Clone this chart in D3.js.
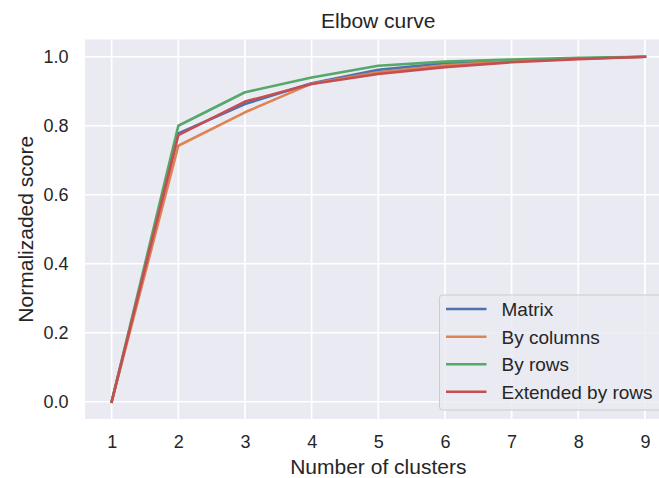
<!DOCTYPE html>
<html>
<head>
<meta charset="utf-8">
<script src="https://cdn.jsdelivr.net/npm/d3@7"></script>
<style>
  html, body { margin: 0; padding: 0; background: #ffffff; }
  svg { display: block; font-family: "Liberation Sans", Arial, sans-serif; }
</style>
</head>
<body>
<svg id="chart" width="659" height="478"></svg>
<script>
// Number of clusters on the x axis
const clusters = [1, 2, 3, 4, 5, 6, 7, 8, 9];

// Normalized score per method
const matrix = [0.0, 0.778, 0.863, 0.923, 0.962, 0.981, 0.990, 0.995, 1.0];
const byColumns = [0.0, 0.742, 0.839, 0.922, 0.955, 0.975, 0.987, 0.994, 1.0];
const byRows = [0.0, 0.800, 0.897, 0.940, 0.974, 0.986, 0.992, 0.997, 1.0];
const extendedByRows = [0.0, 0.773, 0.870, 0.921, 0.950, 0.970, 0.984, 0.993, 1.0];

const seriesNames = ["Matrix", "By columns", "By rows", "Extended by rows"];
const seriesValues = [matrix, byColumns, byRows, extendedByRows];
const seriesColors = ["#4c72b0", "#dd8452", "#55a868", "#c44e52"];

const xTicks = [1, 2, 3, 4, 5, 6, 7, 8, 9];
const yTicks = [0.0, 0.2, 0.4, 0.6, 0.8, 1.0];

const svg = d3.select("#chart");
const plot = { left: 85, right: 671.6, top: 39.5, bottom: 419 };

const x = d3.scaleLinear().domain([0.6, 9.4]).range([plot.left, plot.right]);
const y = d3.scaleLinear().domain([-0.05, 1.05]).range([plot.bottom, plot.top]);

// axes background
svg.append("rect")
  .attr("x", plot.left).attr("y", plot.top)
  .attr("width", plot.right - plot.left).attr("height", plot.bottom - plot.top)
  .attr("fill", "#eaeaf2");

// grid
const grid = svg.append("g").attr("stroke", "#ffffff").attr("stroke-width", 1.7);
grid.selectAll("line.gx").data(xTicks).join("line")
  .attr("x1", d => x(d)).attr("x2", d => x(d))
  .attr("y1", plot.top).attr("y2", plot.bottom);
grid.selectAll("line.gy").data(yTicks).join("line")
  .attr("x1", plot.left).attr("x2", plot.right)
  .attr("y1", d => y(d)).attr("y2", d => y(d));

// tick labels via d3 axes
const xAxis = svg.append("g")
  .attr("transform", `translate(0,${plot.bottom})`)
  .call(d3.axisBottom(x).tickValues(xTicks).tickSize(0).tickPadding(16).tickFormat(d3.format("d")));
const yAxis = svg.append("g")
  .attr("transform", `translate(${plot.left},0)`)
  .call(d3.axisLeft(y).tickValues(yTicks).tickSize(0).tickPadding(16.5).tickFormat(d3.format(".1f")));
[xAxis, yAxis].forEach(a => {
  a.select(".domain").remove();
  a.selectAll("text")
    .attr("fill", "#262626")
    .style("font-size", "18px")
    .style("font-family", "'Liberation Sans', Arial, sans-serif");
});

// series lines
const line = d3.line().x((d, i) => x(clusters[i])).y(d => y(d));
seriesValues.forEach((vals, k) => {
  svg.append("path")
    .datum(vals)
    .attr("d", line)
    .attr("fill", "none")
    .attr("stroke", seriesColors[k])
    .attr("stroke-width", 2.6)
    .attr("stroke-linecap", "square")
    .attr("stroke-linejoin", "round");
});

// title and axis labels
const midX = (plot.left + plot.right) / 2;
svg.append("text")
  .attr("x", midX).attr("y", 28.3)
  .attr("text-anchor", "middle")
  .attr("fill", "#262626")
  .style("font-size", "21px")
  .text("Elbow curve");

svg.append("text")
  .attr("x", midX).attr("y", 474)
  .attr("text-anchor", "middle")
  .attr("fill", "#262626")
  .style("font-size", "21px")
  .text("Number of clusters");

svg.append("text")
  .attr("transform", `translate(33,${(plot.top + plot.bottom) / 2}) rotate(-90)`)
  .attr("text-anchor", "middle")
  .attr("fill", "#262626")
  .style("font-size", "21px")
  .text("Normalizaded score");

// legend
const legend = svg.append("g");
legend.append("rect")
  .attr("x", 439.5).attr("y", 295)
  .attr("width", 230).attr("height", 115)
  .attr("rx", 3).attr("ry", 3)
  .attr("fill", "#eaeaf2").attr("fill-opacity", 0.8)
  .attr("stroke", "#cccccc").attr("stroke-width", 1);
const rowY = [309, 336.7, 364.3, 391.8];
seriesNames.forEach((name, k) => {
  legend.append("line")
    .attr("x1", 446).attr("x2", 486.5)
    .attr("y1", rowY[k]).attr("y2", rowY[k])
    .attr("stroke", seriesColors[k]).attr("stroke-width", 2.6);
  legend.append("text")
    .attr("x", 501.5).attr("y", rowY[k] + 6.8)
    .attr("fill", "#262626")
    .style("font-size", "19px")
    .text(name);
});
</script>
</body>
</html>
